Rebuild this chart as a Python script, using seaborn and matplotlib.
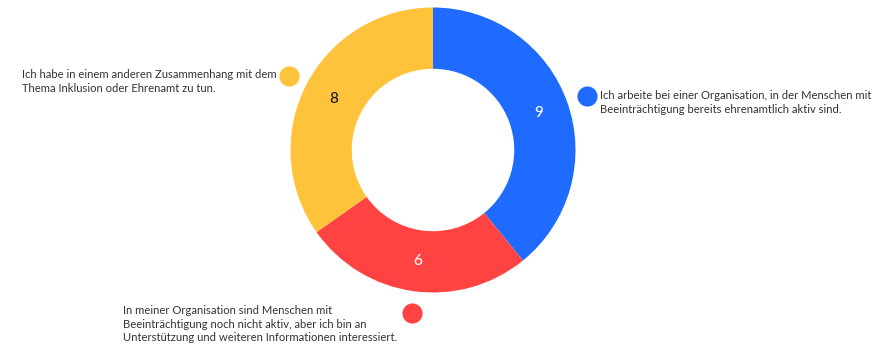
import matplotlib
matplotlib.use("Agg")
import matplotlib.pyplot as plt
import seaborn as sns

categories = [
    "Ich arbeite bei einer Organisation, in der Menschen mit\nBeeinträchtigung bereits ehrenamtlich aktiv sind.",
    "In meiner Organisation sind Menschen mit\nBeeinträchtigung noch nicht aktiv, aber ich bin an\nUnterstützung und weiteren Informationen interessiert.",
    "Ich habe in einem anderen Zusammenhang mit dem\nThema Inklusion oder Ehrenamt zu tun.",
]
values = [9, 6, 8]
colors = ["#1F6BFF", "#FF4242", "#FFC23B"]
value_text_colors = ["white", "white", "#1a1a1a"]

sns.set_theme(style="white")
plt.rcParams["font.family"] = ["Lato", "DejaVu Sans"]

W, H = 877, 344
fig = plt.figure(figsize=(W / 100, H / 100), dpi=100)
ax = fig.add_axes([0, 0, 1, 1])


def Y(y):
    return H - y


total = sum(values)
wedges, texts, autotexts = ax.pie(
    values,
    colors=colors,
    startangle=90,
    counterclock=False,
    center=(433, Y(150)),
    radius=142.5,
    wedgeprops=dict(width=142.5 * 0.43, linewidth=0),
    autopct=lambda p: f"{round(p * total / 100)}",
    pctdistance=0.785,
    frame=True,
)
for t, c in zip(autotexts, value_text_colors):
    t.set_color(c)
    t.set_fontsize(11)
    t.set_fontweight("medium")
ax.set_xlim(0, W)
ax.set_ylim(0, H)
ax.set_aspect("equal")
ax.axis("off")

txt_color = "#333333"
fs = 8.15
# legend-like annotations: (dot x, dot y, text x, text y, ha)
layout = [
    (587, 96, 600, 102.5, "left"),
    (412, 313, 123, 324, "left"),
    (289, 76, 277, 81.5, "right"),
]
for (dx, dy, tx, ty, ha), lab, col in zip(layout, categories, colors):
    ax.scatter([dx], [Y(dy)], s=210, color=col, linewidths=0, zorder=5)
    ax.text(tx, Y(ty), lab, ha=ha, va="center", fontsize=fs, color=txt_color,
            linespacing=1.3, multialignment="left")

fig.savefig("out.png", dpi=100, facecolor="white")
